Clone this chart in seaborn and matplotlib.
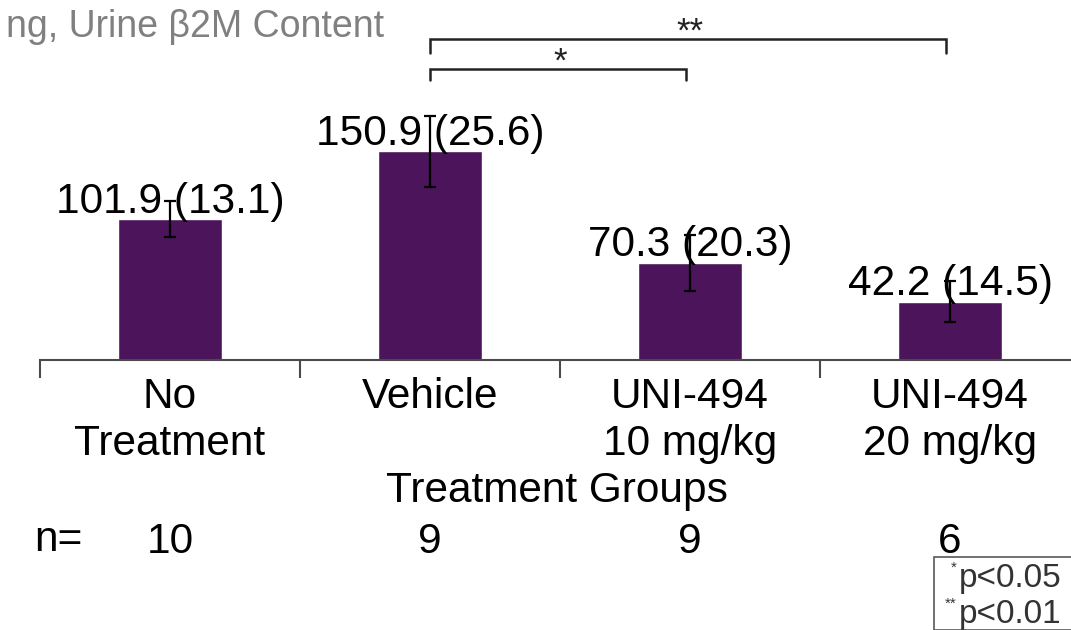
import matplotlib
matplotlib.use("Agg")
import matplotlib.pyplot as plt
import seaborn as sns
import numpy as np
from matplotlib.patches import Rectangle

categories = ["No\nTreatment", "Vehicle", "UNI-494\n10 mg/kg", "UNI-494\n20 mg/kg"]
means = [101.9, 150.9, 70.3, 42.2]
sds = [13.1, 25.6, 20.3, 14.5]
n_values = ["10", "9", "9", "6"]
value_labels = ["101.9 (13.1)", "150.9 (25.6)", "70.3 (20.3)", "42.2 (14.5)"]
sig_pairs = [(1, 2, "*"), (1, 3, "**")]
legend_lines = [("*", "p<0.05"), ("**", "p<0.01")]

sns.set_theme(style="white")
plt.rcParams["font.family"] = ["Liberation Sans", "DejaVu Sans"]

W, H = 1071, 630
fig = plt.figure(figsize=(W / 100, H / 100), dpi=100)
ax = fig.add_axes([40 / W, 270 / H, 1040 / W, 360 / H])

FS = 30.5
bar_color = "#4C145B"
sns.barplot(x=list(range(len(categories))), y=means, color=bar_color,
            width=0.4, ax=ax, saturation=1, errorbar=None, native_scale=True)
ax.errorbar(range(len(categories)), means, yerr=sds, fmt="none",
            ecolor="black", elinewidth=1.6, capsize=4.5, capthick=1.6, zorder=5)

ax.set_xlim(-0.5, 3.5)
ax.set_ylim(0, 260)

for sp in ["top", "right", "left"]:
    ax.spines[sp].set_visible(False)
ax.spines["bottom"].set_color("#4a4a4a")
ax.spines["bottom"].set_linewidth(1.5)
ax.set_yticks([])

ax.set_xticks(range(len(categories)))
ax.set_xticklabels(categories, fontsize=FS, color="black", linespacing=1.24)
ax.set_xticks(np.arange(-0.5, 4.0, 1.0), minor=True)
ax.tick_params(axis="x", which="major", length=0, pad=12)
ax.tick_params(axis="x", which="minor", length=13, width=1.5, color="#4a4a4a",
               direction="out", bottom=True)
ax.set_xlabel("")

# value labels
for i, (m, lab) in enumerate(zip(means, value_labels)):
    ax.annotate(lab, (i, m), xytext=(0, 4.5), textcoords="offset points",
                ha="center", va="baseline", fontsize=FS, color="black", zorder=3)

# significance brackets
line_y = {1: (210.1, 202.2), 2: (231.8, 221.7)}
for k, (a, b, star) in enumerate(sig_pairs):
    top, bot = line_y[k + 1]
    ax.plot([a, a, b - 0.015, b - 0.015], [bot, top, top, bot], color="#222222",
            lw=1.8, clip_on=False, solid_joinstyle="miter")
    ax.annotate(star, ((a + b) / 2, top), xytext=(0, -1.5), textcoords="offset points",
                ha="center", va="baseline", fontsize=25, color="#222222")

# axis titles
fig.text(6 / W, 1 - 27 / H, "ng, Urine \u03b22M Content", fontsize=27,
         color="#808080", ha="left", va="center")
fig.text(557 / W, 1 - 491 / H, "Treatment Groups", fontsize=FS,
         color="black", ha="center", va="center")

# n row
fig.text(34 / W, 1 - 540 / H, "n=", fontsize=FS, color="black",
         ha="left", va="center")
for i, nv in enumerate(n_values):
    ax.annotate(nv, (i, 0), xycoords=("data", "axes fraction"),
                xytext=(0, -182 * 0.72), textcoords="offset points",
                ha="center", va="center", fontsize=FS, color="black")

# p-value legend box
fig.patches.append(Rectangle((934 / W, 0), 200 / W, 73 / H,
                             transform=fig.transFigure, fill=False,
                             edgecolor="#595959", lw=1.2))
for j, (sup, txt) in enumerate(legend_lines):
    yc = 1 - (579 + j * 36) / H
    fig.text(959 / W, yc, txt, fontsize=24, color="#333333",
             ha="left", va="center")
    fig.text(957 / W, yc + 11 / H, sup, fontsize=11, color="#333333",
             ha="right", va="center")

fig.savefig("out.png", dpi=100)
